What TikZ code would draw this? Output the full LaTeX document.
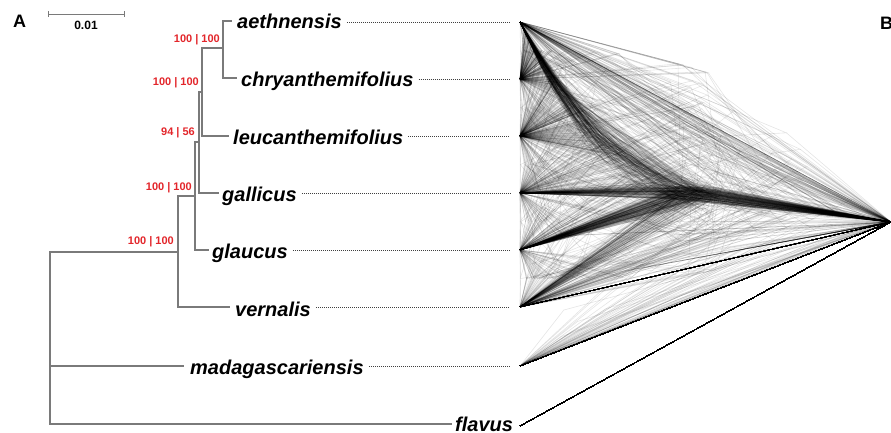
\documentclass[tikz,border=0pt]{standalone}
\usepackage{fontspec}
\setmainfont{Liberation Sans}
\newcount\cnj
\newcount\cnk
\newcommand\cset[2]{\expandafter\xdef\csname cl#1\endcsname{#2}}
\newcommand\cget[1]{\csname cl#1\endcsname}
\definecolor{brgray}{HTML}{7A7A7A}
\definecolor{suppred}{HTML}{E3262B}
\tikzset{
  branch/.style={draw=brgray, line width=1.1pt},
  taxon/.style={font=\fontsize{20}{24}\selectfont\bfseries\itshape, anchor=base west, inner sep=0pt},
  supp/.style={font=\fontsize{11}{13}\selectfont\bfseries, text=suppred, anchor=east, inner sep=0pt},
  leader/.style={draw=black!75, line width=0.9pt, dash pattern=on 1pt off 1pt},
  cl/.style={line width=0.6pt, draw=black, draw opacity=0.1},
  panel/.style={font=\fontsize{18}{20}\selectfont\bfseries, anchor=base west, inner sep=0pt},
}
% pull a node towards the root height as it nears the root
\newcommand\cpull[3]{\pgfmathsetmacro#1{#2+(222-#2)*((#3-520)/371)^3}}
% point on the backbone curve of one tree
\newcommand\cQ[3]{\pgfmathsetmacro#2{520+(\qXH-520)*#1}\pgfmathsetmacro#3{22+(\qYH-22)*(1-(1-#1)*(1-#1))}}
\begin{document}
\begin{tikzpicture}[x=1pt,y=-1pt]
\useasboundingbox (0,0) rectangle (891,433);
\fill[white] (0,0) rectangle (891,433);

% panel labels
\node[panel] (pA) at (13,28) {A};
\node[panel] (pB) at (880,30) {B};

% scale bar
\coordinate (sb1) at (48,14);
\coordinate (sb2) at (124,14);
\draw[brgray, line width=0.8pt] (sb1) -- (sb2);
\draw[brgray, line width=0.8pt] ([yshift=-3pt]sb1) -- ([yshift=3pt]sb1);
\draw[brgray, line width=0.8pt] ([yshift=-3pt]sb2) -- ([yshift=3pt]sb2);
\node[font=\fontsize{12}{14}\selectfont\bfseries, inner sep=0pt] (sbl) at (86,25) {0.01};

% tree nodes
\coordinate (R) at (50,338);
\coordinate (N5) at (178,252);
\coordinate (N4) at (195,196);
\coordinate (N3) at (199,142);
\coordinate (N2) at (202,92);
\coordinate (N1) at (223,48);
\coordinate (tipA) at (232,21);
\coordinate (tipC) at (237,78);
\coordinate (tipL) at (229,136);
\coordinate (tipG) at (219,193);
\coordinate (tipGl) at (209,250);
\coordinate (tipV) at (230,307);
\coordinate (tipM) at (184,366);
\coordinate (tipF) at (452,424);

\draw[branch] (R) |- (N5);
\draw[branch] (R) |- (tipM);
\draw[branch] (R) |- (tipF);
\draw[branch] (N5) |- (N4);
\draw[branch] (N5) |- (tipV);
\draw[branch] (N4) |- (N3);
\draw[branch] (N4) |- (tipGl);
\draw[branch] (N3) |- (N2);
\draw[branch] (N3) |- (tipG);
\draw[branch] (N2) |- (N1);
\draw[branch] (N2) |- (tipL);
\draw[branch] (N1) |- (tipA);
\draw[branch] (N1) |- (tipC);

% support values
\node[supp] (s1) at (220,40) {100 | 100};
\node[supp] (s2) at (199,83) {100 | 100};
\node[supp] (s3) at (195,133) {94 | 56};
\node[supp] (s4) at (192,188) {100 | 100};
\node[supp] (s5) at (174,242) {100 | 100};

% taxon names
\node[taxon] (tA) at (237,29) {aethnensis};
\node[taxon] (tC) at (241,87) {chryanthemifolius};
\node[taxon] (tL) at (233,144) {leucanthemifolius};
\node[taxon] (tG) at (222,201) {gallicus};
\node[taxon] (tGl) at (212,258) {glaucus};
\node[taxon] (tV) at (235,316) {vernalis};
\node[taxon] (tM) at (190,374) {madagascariensis};
\node[taxon] (tF) at (455,431) {flavus};

% leader ends
\coordinate (dA) at (510,22);
\coordinate (dC) at (510,79);
\coordinate (dL) at (510,136);
\coordinate (dG) at (510,193);
\coordinate (dGl) at (510,250);
\coordinate (dV) at (510,307);
\coordinate (dM) at (510,366);
\foreach \t in {A,C,L,G,Gl,V,M}{
  \draw[leader] (t\t.east |- d\t) ++(5,0) -- (d\t);
}

% cloud
\coordinate (cA) at (520,22);
\coordinate (cC) at (520,79);
\coordinate (cL) at (520,136);
\coordinate (cG) at (520,193);
\coordinate (cGl) at (520,250);
\coordinate (cV) at (520,307);
\coordinate (cM) at (520,366);
\coordinate (cF) at (520,426);
\coordinate (cR) at (891,222);

\pgfmathsetseed{11}
\foreach \k in {1,...,320}{
  \pgfmathsetmacro\cLad{rnd}
  \ifdim\cLad pt<0.7pt
    % ---- backbone (caterpillar) tree ----
    \pgfmathsetmacro\qXH{668+55*rnd}
    \pgfmathsetmacro\qYH{186+14*rnd}
    \pgfmathsetmacro\qsC{0.02+0.2*rnd}
    \pgfmathsetmacro\qsL{\qsC+0.03+0.37*rnd}
    \pgfmathsetmacro\qRa{rnd}
    \ifdim\qRa pt<0.35pt \def\qsG{1}\else\pgfmathsetmacro\qsG{\qsL+(1-\qsL)*rnd}\fi
    \pgfmathsetmacro\qRa{rnd}
    \ifdim\qRa pt<0.5pt \def\qsGl{1}\else\pgfmathsetmacro\qsGl{\qsG+(1-\qsG)*rnd}\fi
    \cQ\qsC\qxC\qyC
    \cQ\qsL\qxL\qyL
    \cQ\qsG\qxG\qyG
    \cQ\qsGl\qxGl\qyGl
    \pgfmathsetmacro\qRb{rnd}
    \ifdim\qRb pt<0.25pt
      \pgfmathsetmacro\qt{rnd}
      \pgfmathsetmacro\qxA{\qXH+(891-\qXH)*\qt}
      \pgfmathsetmacro\qyA{\qYH+(222-\qYH)*\qt-15*(1-\qt)*rnd}
      \draw[cl] (cA) -- (\qxA,\qyA);
      \draw[cl] (\qxC,\qyC) -- (\qxL,\qyL) -- (\qxG,\qyG) -- (\qxGl,\qyGl) -- (\qXH,\qYH) -- (cR);
    \else
      \draw[cl] (cA) -- (\qxC,\qyC) -- (\qxL,\qyL) -- (\qxG,\qyG) -- (\qxGl,\qyGl) -- (\qXH,\qYH) -- (cR);
    \fi
    \draw[cl] (cC) -- (\qxC,\qyC);
    \draw[cl] (cL) -- (\qxL,\qyL);
    \draw[cl] (cG) -- (\qxG,\qyG);
    \draw[cl] (cGl) -- (\qxGl,\qyGl);
    \pgfmathsetmacro\qRa{rnd}
    \ifdim\qRa pt<0.4pt
      \draw[cl] (cV) -- (\qXH,\qYH);
    \else
      \ifdim\qRa pt<0.85pt
        \draw[cl] (cV) -- (cR);
      \else
        \pgfmathsetmacro\qt{0.6*rnd}
        \pgfmathsetmacro\qxV{\qXH+(891-\qXH)*\qt}
        \pgfmathsetmacro\qyV{\qYH+(222-\qYH)*\qt+10}
        \draw[cl] (cV) -- (\qxV,\qyV) -- (\qXH,\qYH);
      \fi
    \fi
    \pgfmathsetmacro\qRa{rnd}
    \ifdim\qRa pt<0.85pt
      \draw[cl] (cM) -- (cR);
    \else
      \pgfmathsetmacro\qxM{620+260*rnd}
      \pgfmathsetmacro\qyM{222+(891-\qxM)/271*50}
      \draw[cl] (cM) -- (\qxM,\qyM) -- (cR);
    \fi
  \else
    % ---- discordant tree: random coalescence ----
    \foreach \j/\yy in {1/22,2/79,3/136,4/193,5/250,6/307}{\cset{X\j}{520}\cset{Y\j}{\yy}}
    \pgfmathsetmacro\cTmp{670+50*rnd}\xdef\cXI{\cTmp}
    \xdef\cFF{0}\xdef\cNK{6}
    \foreach \m in {1,...,4}{
      \pgfmathtruncatemacro\cNKM{\cNK-1}
      \pgfmathrandominteger{\cPP}{1}{\cNKM}
      \ifnum\m=4 \xdef\cFF{1}\else
        \pgfmathsetmacro\cTmp{\cFF+(1-\cFF)*rnd*((\m==1)*0.15+(\m==2)*0.3+(\m==3)*0.55)}\xdef\cFF{\cTmp}\fi
      \pgfmathsetmacro\cXN{520+(\cXI-520)*\cFF}
      \pgfmathtruncatemacro\cQQ{\cPP+1}
      \edef\cXa{\cget{X\cPP}}\edef\cYa{\cget{Y\cPP}}
      \edef\cXb{\cget{X\cQQ}}\edef\cYb{\cget{Y\cQQ}}
      \pgfmathsetmacro\cYm{(\cYa+\cYb)/2}
      \cpull\cYN\cYm\cXN
      \draw[cl] (\cXa,\cYa) -- (\cXN,\cYN) -- (\cXb,\cYb);
      \cset{X\cPP}{\cXN}\cset{Y\cPP}{\cYN}
      \cnj=\cQQ\relax
      \loop\ifnum\cnj<\cNK\relax
        \cnk=\cnj \advance\cnk by 1
        \cset{X\the\cnj}{\cget{X\the\cnk}}
        \cset{Y\the\cnj}{\cget{Y\the\cnk}}
        \advance\cnj by 1
      \repeat
      \xdef\cNK{\cNKM}
    }
    \edef\cXa{\cget{X1}}\edef\cYa{\cget{Y1}}
    \edef\cXb{\cget{X2}}\edef\cYb{\cget{Y2}}
    \pgfmathsetmacro\cRr{rnd}
    \ifdim\cRr pt<0.5pt
      \draw[cl] (\cXa,\cYa) -- (cR);
      \draw[cl] (\cXb,\cYb) -- (cR);
    \else
      \pgfmathsetmacro\cXi{max(\cXa,\cXb)+(891-max(\cXa,\cXb))*0.6*rnd}
      \pgfmathsetmacro\cYm{(\cYa+\cYb)/2}
      \cpull\cYi\cYm\cXi
      \draw[cl] (\cXa,\cYa) -- (\cXi,\cYi) -- (\cXb,\cYb);
      \draw[cl] (\cXi,\cYi) -- (cR);
    \fi
    \pgfmathsetmacro\cRr{rnd}
    \ifdim\cRr pt<0.75pt
      \draw[cl] (cM) -- (cR);
    \else
      \pgfmathsetmacro\cXm{560+300*rnd}
      \pgfmathsetmacro\cYm{366-(\cXm-520)/371*144-40*rnd}
      \draw[cl] (cM) -- (\cXm,\cYm) -- (cR);
    \fi
  \fi
  \draw[cl] (cF) -- (cR);
}
\end{tikzpicture}
\end{document}
